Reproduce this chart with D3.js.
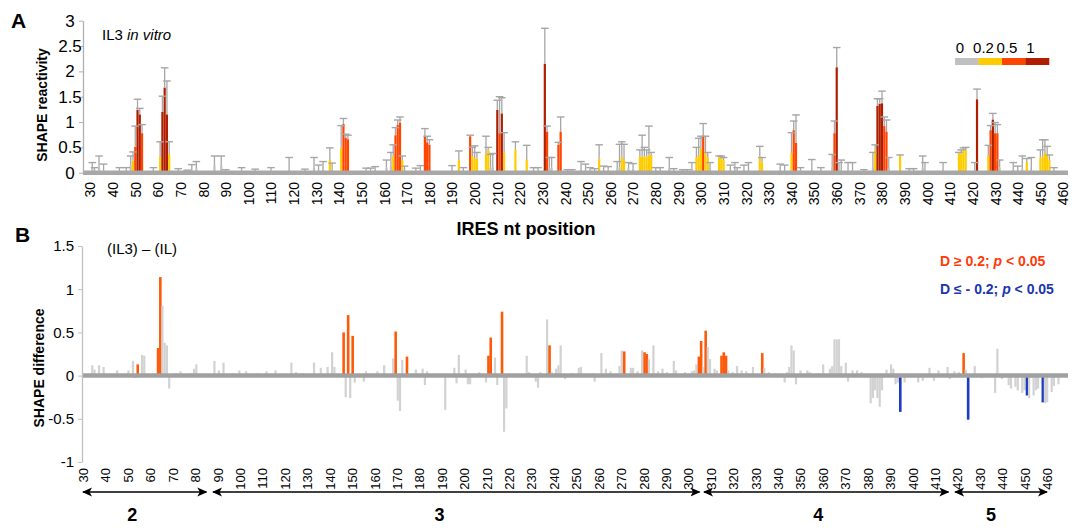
<!DOCTYPE html>
<html>
<head>
<meta charset="utf-8">
<script src="https://cdn.jsdelivr.net/npm/d3@7"></script>
<style>
body { margin: 0; background: #fff; }
text { font-family: "Liberation Sans", Arial, Helvetica, sans-serif; }
</style>
</head>
<body>
<script>
// SHAPE reactivity of IL3 (panel A) and (IL3) - (IL) difference (panel B)

// [nt, mean reactivity, top of error bar]
var reactivityIL3 = [
    [31,0.1,0.2],[32,0.05,0.1],[34,0.1,0.33],[36,0.05,0.17],[43,0.03,0.1],[46,0.03,0.1],[48,0.15,0.33],
    [49,0.24,0.41],[50,0.51,0.92],[51,1.24,1.45],[52,1.15,1.27],[53,0.78,0.95],[58,0.03,0.1],
    [61,0.32,0.61],[62,1.2,1.51],[63,1.68,2.07],[64,1.15,1.81],[65,0.37,0.61],
    [69,0.02,0.08],[73,0.02,0.05],[75,0.05,0.16],[77,0.08,0.22],[85,0.15,0.33],[88,0.15,0.33],[90,0.03,0.06],
    [97,0.03,0.1],[103,0.03,0.07],[110,0.03,0.1],[118,0.06,0.3],[125,0.02,0.07],[129,0.1,0.3],[131,0.05,0.15],[133,0.07,0.22],
    [136,0.25,0.49],[137,0.05,0.19],[141,0.49,0.93],[142,0.96,1.07],[143,0.69,0.76],[144,0.66,0.74],
    [152,0.03,0.09],[154,0.03,0.09],[156,0.04,0.12],[161,0.1,0.25],[163,0.15,0.4],
    [164,0.33,0.55],[165,0.74,0.89],[166,0.94,1.04],[167,0.99,1.1],[168,0.25,0.33],[169,0.05,0.13],
    [174,0.03,0.09],[176,0.05,0.14],[178,0.72,0.87],[179,0.6,0.72],[180,0.55,0.65],
    [190,0.05,0.14],[193,0.25,0.43],[195,0.03,0.1],[198,0.72,0.74],[199,0.33,0.5],[200,0.28,0.53],[201,0.28,0.4],
    [205,0.37,0.72],[206,0.46,0.5],[207,0.1,0.36],[208,0.1,0.38],[210,1.24,1.43],[211,0.78,1.5],[212,1.17,1.48],[213,0.4,0.79],
    [218,0.46,0.61],[223,0.25,0.54],[226,0.02,0.1],[228,0.02,0.1],
    [231,2.15,2.85],[232,0.81,0.92],[233,0.1,0.3],[234,0.1,0.3],[237,0.55,0.6],[238,0.81,1.1],
    [241,0.02,0.06],[243,0.02,0.06],[247,0.05,0.22],[249,0.05,0.17],[251,0.03,0.1],[253,0.03,0.08],[255,0.28,0.55],
    [257,0.05,0.13],[259,0.04,0.12],[263,0.08,0.22],[264,0.1,0.56],[265,0.32,0.61],[266,0.25,0.56],[268,0.08,0.2],[270,0.08,0.18],
    [273,0.32,0.45],[274,0.32,0.74],[275,0.32,0.5],[276,0.32,0.45],[277,0.34,0.92],[278,0.35,0.4],
    [280,0.05,0.1],[282,0.03,0.1],[286,0.1,0.3],[288,0.03,0.08],[292,0.02,0.06],[294,0.02,0.06],[296,0.08,0.2],
    [298,0.3,0.5],[299,0.35,0.68],[300,0.48,0.72],[301,0.71,0.97],[302,0.41,0.72],[303,0.3,0.4],[304,0.1,0.2],
    [308,0.3,0.33],[309,0.3,0.33],[310,0.25,0.3],[313,0.05,0.15],[315,0.05,0.2],[316,0.03,0.1],[319,0.05,0.15],[321,0.05,0.2],
    [326,0.32,0.52],[327,0.2,0.3],[335,0.05,0.17],[337,0.05,0.15],
    [340,0.39,0.79],[341,0.84,1.02],[342,0.59,1.14],[344,0.05,0.1],[349,0.05,0.26],[353,0.03,0.1],
    [358,0.1,0.36],[359,0.78,1.02],[360,2.08,2.47],[361,0.05,0.2],[362,0.05,0.25],[365,0.05,0.2],[367,0.05,0.2],[372,0.02,0.06],
    [376,0.1,0.4],[377,0.46,0.55],[378,1.32,1.46],[379,1.36,1.46],[380,1.37,1.61],[381,0.92,1.1],[382,0.81,1.04],[383,0.1,0.3],
    [388,0.35,0.35],[392,0.03,0.08],[394,0.03,0.08],[398,0.1,0.33],[399,0.05,0.2],[407,0.05,0.2],
    [414,0.38,0.4],[415,0.38,0.45],[416,0.45,0.49],[417,0.45,0.5],[421,0.05,0.2],[422,1.45,1.65],
    [427,0.35,0.54],[428,0.84,0.93],[429,1.05,1.17],[430,0.78,0.99],[431,0.78,0.95],[432,0.1,0.25],
    [438,0.05,0.2],[440,0.05,0.13],[442,0.08,0.33],[444,0.21,0.28],[446,0.05,0.3],
    [450,0.3,0.45],[451,0.32,0.65],[452,0.39,0.65],[453,0.35,0.52],[454,0.25,0.35],[456,0.05,0.1]
];

// [nt, (IL3) - (IL)]
var differenceIL3 = [
    [31,0.12],[32,0.07],[34,0.12],[36,0.1],[42,0.06],[47,0.06],[49,0.17],[50,-0.02],[51,0.13],[53,0.24],[54,0.23],
    [60,0.32],[61,1.14],[62,0.81],[63,0.38],[64,0.35],[65,-0.15],
    [68,0.03],[70,0.05],[74,0.03],[76,0.08],[77,0.13],[80,-0.02],[83,-0.02],[85,0.17],[87,0.06],[89,0.15],[93,0.03],
    [96,0.06],[99,0.05],[104,0.03],[108,0.05],[112,0.06],[119,0.15],[121,0.04],[124,0.03],[129,0.15],[132,0.09],[135,0.1],[137,0.27],[138,0.1],
    [142,0.5],[143,-0.25],[144,0.7],[145,-0.26],[146,0.46],[147,-0.08],[151,-0.07],[152,0.05],[157,0.05],[160,0.12],
    [164,0.2],[165,0.51],[166,-0.29],[167,-0.41],[168,0.18],[170,0.22],[174,0.07],[177,0.08],[178,-0.11],[179,0.05],
    [187,-0.4],[191,0.09],[192,-0.09],[193,0.24],[196,0.07],[197,-0.1],[198,-0.1],[202,0.04],[205,-0.08],[206,0.23],[207,0.44],
    [209,0.21],[210,-0.11],[212,0.74],[213,-0.65],[214,-0.38],
    [223,0.23],[224,0.04],[227,-0.07],[228,-0.14],[229,0.04],[232,0.65],[233,0.35],[234,0.04],[236,0.08],[237,0.12],[238,0.35],
    [240,-0.04],[243,0.03],[246,0.09],[247,0.1],[252,0.03],[253,-0.07],[256,0.26],[258,0.08],[260,0.05],
    [264,0.11],[265,0.29],[266,0.28],[269,0.09],[270,0.09],[272,0.05],[274,0.29],[275,0.27],[276,0.25],[277,0.19],[279,0.35],
    [281,0.05],[283,0.08],[285,0.04],[288,0.17],[289,0.06],[293,0.04],[296,0.05],[297,0.06],
    [298,0.13],[299,0.22],[300,0.4],[301,0.1],[302,0.52],[303,0.33],[304,0.19],[306,0.08],[307,0.06],
    [309,0.23],[310,0.27],[311,0.23],[312,0.06],[314,0.04],[316,0.11],[318,0.06],[320,0.05],[323,0.1],[327,0.26],[328,0.09],
    [330,0.04],[333,0.03],[337,-0.08],[338,0.04],[339,0.1],[340,0.35],[341,0.29],[342,-0.1],[344,0.06],[347,0.06],[348,0.04],
    [352,0.03],[354,0.13],[357,0.08],[358,0.11],[359,0.42],[360,0.42],[361,0.42],[362,0.11],[364,0.15],[365,-0.07],
    [367,0.06],[369,0.06],[371,0.04],
    [375,-0.32],[376,-0.26],[377,-0.17],[378,-0.26],[379,-0.36],[380,-0.17],[382,0.07],[384,0.13],[385,0.08],[386,-0.1],
    [387,-0.08],[388,-0.42],[390,-0.08],[396,-0.08],[398,-0.06],[401,0.09],[403,-0.06],[405,0.06],[409,0.1],[410,-0.04],
    [412,0.05],[414,0.04],[416,0.26],[417,0.07],[418,-0.51],[421,0.11],[424,-0.03],[430,-0.2],[431,0.31],[433,-0.04],
    [436,-0.11],[437,-0.15],[439,-0.13],[440,-0.17],[442,-0.2],[443,-0.17],[444,-0.23],[445,-0.26],[447,-0.23],[448,-0.17],
    [449,-0.15],[451,-0.31],[452,-0.32],[453,-0.31],[455,-0.19],[456,-0.12],[458,-0.1]
];

// significant nts (p < 0.05)
var sigUp = [51,60,61,142,144,146,165,170,206,207,212,233,266,275,276,299,300,302,309,310,311,327,416];
var sigDown = [50,388,418,444,451];

var reactThresholds = [0.2, 0.5, 1];
var reactColors = ["#c0c0c0", "#ffcc00", "#ff4500", "#b01e00"];
var legendLabels = ["0", "0.2", "0.5", "1"];

var ntTicks = d3.range(30, 461, 10);
var reactTicks = [0, 0.5, 1, 1.5, 2, 2.5, 3];
var diffTicks = [-1, -0.5, 0, 0.5, 1, 1.5];

// IRES domains
var domainRanges = [[30, 85], [88, 305], [307, 416], [419, 460]];
var domainNames = ["2", "3", "4", "5"];
var domainLabelNt = [52, 189, 358, 435];

var svg = d3.select("body").append("svg").attr("width", 1074).attr("height", 528);

var xA = d3.scaleLinear().domain([30, 460]).range([90, 1063]);
var yA = d3.scaleLinear().domain([0, 3]).range([172.7, 20.7]);
var colorA = d3.scaleThreshold().domain(reactThresholds).range(reactColors);
var barW = 2.2;

// ---------- panel A ----------
var panelA = svg.append("g");

panelA.selectAll("rect.bar")
    .data(reactivityIL3)
    .enter().append("rect")
    .attr("x", function (d) { return xA(d[0]) - barW / 2; })
    .attr("y", function (d) { return yA(d[1]); })
    .attr("width", barW)
    .attr("height", function (d) { return yA(0) - yA(d[1]); })
    .attr("fill", function (d) { return colorA(d[1]); });

panelA.selectAll("line.err")
    .data(reactivityIL3)
    .enter().append("line")
    .attr("x1", function (d) { return xA(d[0]); })
    .attr("x2", function (d) { return xA(d[0]); })
    .attr("y1", function (d) { return yA(d[1]); })
    .attr("y2", function (d) { return yA(d[2]); })
    .attr("stroke", "#a6a6a6")
    .attr("stroke-width", 1.3);

panelA.selectAll("line.cap")
    .data(reactivityIL3)
    .enter().append("line")
    .attr("x1", function (d) { return xA(d[0]) - 3.8; })
    .attr("x2", function (d) { return xA(d[0]) + 3.8; })
    .attr("y1", function (d) { return yA(d[2]); })
    .attr("y2", function (d) { return yA(d[2]); })
    .attr("stroke", "#a6a6a6")
    .attr("stroke-width", 1.4);

panelA.append("line")
    .attr("x1", 83).attr("x2", 1068)
    .attr("y1", yA(0)).attr("y2", yA(0))
    .attr("stroke", "#a8a8a8").attr("stroke-width", 4.5);

var axA = panelA.append("g").attr("transform", "translate(83,0)")
    .call(d3.axisLeft(yA).tickValues(reactTicks).tickFormat(String).tickSize(4).tickSizeOuter(0));
axA.select(".domain").attr("stroke", "#b0b0b0").attr("stroke-width", 1.3);
axA.selectAll(".tick line").attr("stroke", "#b0b0b0");
axA.selectAll(".tick text").attr("x", -13).attr("text-anchor", "middle").style("font-size", "17px");

var axXA = panelA.append("g").attr("transform", "translate(0,182)")
    .call(d3.axisBottom(xA).tickValues(ntTicks).tickSize(0).tickFormat(String));
axXA.select(".domain").remove();
axXA.selectAll("text")
    .attr("transform", "rotate(-90)")
    .attr("x", 0).attr("y", 0).attr("dy", "0.35em")
    .attr("text-anchor", "end")
    .style("font-size", "14px");

panelA.append("text").attr("x", 11).attr("y", 28)
    .style("font-size", "21px").style("font-weight", "bold").text("A");

var il3 = panelA.append("text").attr("x", 102).attr("y", 40).style("font-size", "15px");
il3.append("tspan").text("IL3 ");
il3.append("tspan").style("font-style", "italic").text("in vitro");

panelA.append("text")
    .attr("transform", "translate(47,105) rotate(-90)")
    .attr("text-anchor", "middle")
    .style("font-size", "14px").style("font-weight", "bold")
    .text("SHAPE reactivity");

// colour key
var legX = d3.scaleLinear().domain([0, 4]).range([955, 1049]);
panelA.selectAll("rect.key")
    .data(reactColors)
    .enter().append("rect")
    .attr("x", function (d, i) { return legX(i); })
    .attr("y", 58)
    .attr("width", legX(1) - legX(0) + 0.3)
    .attr("height", 7)
    .attr("fill", function (d) { return d; });
panelA.selectAll("text.key")
    .data(legendLabels)
    .enter().append("text")
    .attr("x", function (d, i) { return legX(i) + 5; })
    .attr("y", 53)
    .attr("text-anchor", "middle")
    .style("font-size", "15px")
    .text(function (d) { return d; });

// ---------- panel B ----------
var panelB = svg.append("g");
var yB = d3.scaleLinear().domain([-1, 1.5]).range([462, 246]);
// the tick labels of B sit a little tighter than the bars
var xBaxis = d3.scaleLinear().domain([30, 460]).range([83, 1047]);

function colorB(d) {
    if (sigUp.indexOf(d[0]) >= 0) return "#ff5a0a";
    if (sigDown.indexOf(d[0]) >= 0) return "#1c3cc0";
    return "#d2d2d2";
}

panelB.selectAll("rect.diff")
    .data(differenceIL3)
    .enter().append("rect")
    .attr("x", function (d) { return xA(d[0]) - barW / 2; })
    .attr("y", function (d) { return yB(Math.max(0, d[1])); })
    .attr("width", function (d) { return colorB(d) == "#d2d2d2" ? barW : 2.6; })
    .attr("height", function (d) { return Math.abs(yB(d[1]) - yB(0)); })
    .attr("fill", colorB);

panelB.append("line")
    .attr("x1", 82).attr("x2", 1068)
    .attr("y1", yB(0)).attr("y2", yB(0))
    .attr("stroke", "#a0a0a0").attr("stroke-width", 4.5);

var axB = panelB.append("g").attr("transform", "translate(82,0)")
    .call(d3.axisLeft(yB).tickValues(diffTicks).tickFormat(String).tickSize(4).tickSizeOuter(0));
axB.select(".domain").attr("stroke", "#c0c0c0").attr("stroke-width", 1.3);
axB.selectAll(".tick line").attr("stroke", "#c0c0c0");
axB.selectAll(".tick text").attr("x", -8).style("font-size", "15px");

var axXB = panelB.append("g").attr("transform", "translate(0,468)")
    .call(d3.axisBottom(xBaxis).tickValues(ntTicks).tickSize(0).tickFormat(String));
axXB.select(".domain").remove();
axXB.selectAll("text")
    .attr("transform", "rotate(-90)")
    .attr("x", 0).attr("y", 0).attr("dy", "0.35em")
    .attr("text-anchor", "end")
    .style("font-size", "13px");

panelB.append("text").attr("x", 15).attr("y", 242)
    .style("font-size", "21px").style("font-weight", "bold").text("B");

panelB.append("text").attr("x", 107).attr("y", 254)
    .style("font-size", "15px").text("(IL3) \u2013 (IL)");

panelB.append("text").attr("x", 526).attr("y", 235)
    .attr("text-anchor", "middle")
    .style("font-size", "18px").style("font-weight", "bold")
    .text("IRES nt position");

panelB.append("text")
    .attr("transform", "translate(44,368) rotate(-90)")
    .attr("text-anchor", "middle")
    .style("font-size", "14px").style("font-weight", "bold")
    .text("SHAPE difference");

var keyUp = panelB.append("text").attr("x", 940).attr("y", 266)
    .style("font-size", "14px").style("font-weight", "bold").attr("fill", "#ff3a0a");
keyUp.append("tspan").text("D \u2265 0.2; ");
keyUp.append("tspan").style("font-style", "italic").text("p");
keyUp.append("tspan").text(" < 0.05");

var keyDown = panelB.append("text").attr("x", 940).attr("y", 294)
    .style("font-size", "14px").style("font-weight", "bold").attr("fill", "#1c35b0");
keyDown.append("tspan").text("D \u2264 - 0.2; ");
keyDown.append("tspan").style("font-style", "italic").text("p");
keyDown.append("tspan").text(" < 0.05");

// domain arrows
var defs = svg.append("defs");
defs.append("marker")
    .attr("id", "head")
    .attr("viewBox", "0 -5 10 10")
    .attr("refX", 9).attr("refY", 0)
    .attr("markerWidth", 10).attr("markerHeight", 10)
    .attr("markerUnits", "userSpaceOnUse")
    .attr("orient", "auto-start-reverse")
    .append("path")
    .attr("d", "M0,-4.5L10,0L0,4.5L2.5,0Z")
    .attr("fill", "#000");

svg.selectAll("line.domainArrow")
    .data(domainRanges)
    .enter().append("line")
    .attr("x1", function (d) { return xBaxis(d[0]); })
    .attr("x2", function (d) { return xBaxis(d[1]); })
    .attr("y1", 492).attr("y2", 492)
    .attr("stroke", "#000").attr("stroke-width", 1.5)
    .attr("marker-start", "url(#head)")
    .attr("marker-end", "url(#head)");

svg.selectAll("text.domainName")
    .data(domainNames)
    .enter().append("text")
    .attr("x", function (d, i) { return xBaxis(domainLabelNt[i]); })
    .attr("y", 521)
    .attr("text-anchor", "middle")
    .style("font-size", "18px").style("font-weight", "bold")
    .text(function (d) { return d; });
</script>
</body>
</html>
